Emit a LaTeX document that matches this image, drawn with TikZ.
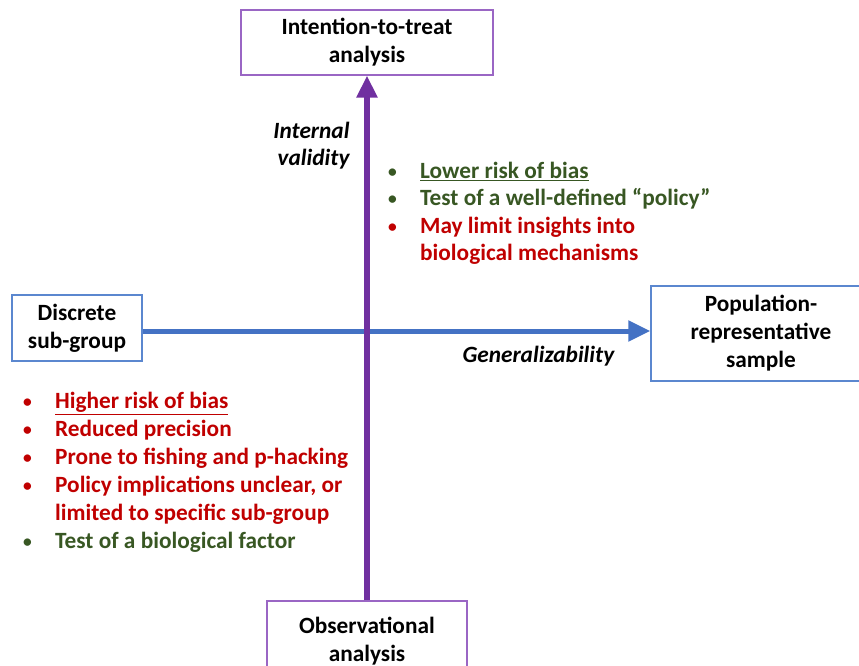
\documentclass[tikz,border=0pt]{standalone}
\usepackage{fontspec}
\setmainfont{Carlito}
\usepackage{xcolor}
\usetikzlibrary{arrows.meta,positioning}

\definecolor{axpurple}{HTML}{7030A0}
\definecolor{axblue}{HTML}{4472C4}
\definecolor{boxpurple}{HTML}{9A66C4}
\definecolor{boxblue}{HTML}{5B87CF}
\definecolor{prosgreen}{HTML}{385723}
\definecolor{consred}{HTML}{C00000}

\tikzset{
  endbox/.style={draw,rectangle,line width=1.2pt,fill=white,align=center,font=\fontsize{23.3}{28}\selectfont\bfseries},
  axislabel/.style={font=\fontsize{23.3}{27}\selectfont\bfseries\itshape},
  bullets/.style={anchor=north west,inner sep=0pt,font=\fontsize{23.3}{27.5}\selectfont\bfseries}
}
\newcommand{\dotmark}{\raisebox{1pt}{\scalebox{0.75}{\textbullet}}}
\newcommand{\pro}[1]{\textcolor{prosgreen}{\dotmark} & \textcolor{prosgreen}{#1}\\}
\newcommand{\con}[1]{\textcolor{consred}{\dotmark} & \textcolor{consred}{#1}\\}
\newcommand{\more}[2]{ & \textcolor{#1}{#2}\\}

\begin{document}
\begin{tikzpicture}[x=1pt,y=-1pt]
    \useasboundingbox (0,0) rectangle (859,666);

    \node[endbox,draw=boxpurple,minimum width=252pt,minimum height=65pt] (itt) at (367,42.5) {Intention-to-treat\\analysis};
    \node[endbox,draw=boxpurple,minimum width=200pt,minimum height=80pt] (obs) at (367,641) {Observational\\analysis};
    \node[endbox,draw=boxblue,minimum width=130pt,minimum height=66pt] (sub) at (77,328) {Discrete\\sub-group};
    \node[endbox,draw=boxblue,minimum width=220pt,minimum height=95pt] (pop) at (761,333.5) {Population-\\representative\\sample};

    \draw[axblue,line width=5pt,-{Triangle[length=22pt,width=20pt]}] ([yshift=-3pt]sub.east) -- ([yshift=-3pt]sub.east -| pop.west);
    \draw[axpurple,line width=6pt,-{Triangle[length=22pt,width=20pt]}] (obs) -- (itt);

    \node[axislabel,align=right,anchor=north east] (intval) at (353,119) {Internal\\validity};
    \node[axislabel,anchor=north west] (gen) at (459,343) {Generalizability};

    % advantages and drawbacks
    \node[bullets] (upper) at (388,159) {\renewcommand{\arraystretch}{1.0}%
      \begin{tabular}{@{}p{32pt}@{}l@{}}
        \pro{\underline{Lower risk of bias}}
        \pro{Test of a well-defined ``policy''}
        \con{May limit insights into}
        \more{consred}{biological mechanisms}
      \end{tabular}};
    \node[bullets,font=\fontsize{23.3}{28}\selectfont\bfseries] (lower) at (23,389) {\renewcommand{\arraystretch}{1.0}%
      \begin{tabular}{@{}p{32pt}@{}l@{}}
        \con{\underline{Higher risk of bias}}
        \con{Reduced precision}
        \con{Prone to fishing and p-hacking}
        \con{Policy implications unclear, or}
        \more{consred}{limited to specific sub-group}
        \pro{Test of a biological factor}
      \end{tabular}};
\end{tikzpicture}
\end{document}
